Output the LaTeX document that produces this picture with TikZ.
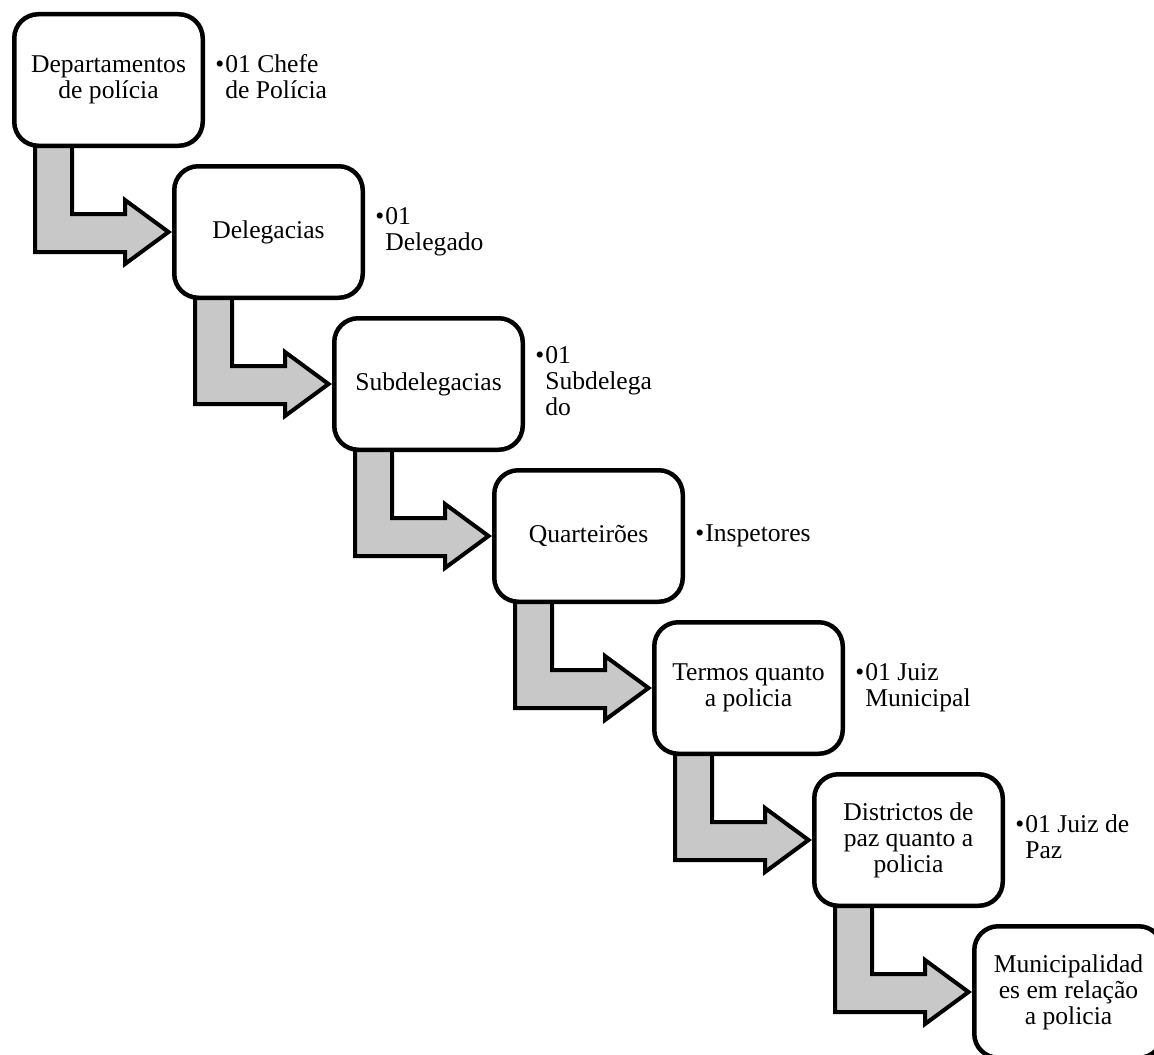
\documentclass[tikz,border=0pt]{standalone}
\usepackage{fontspec}
\setmainfont{Liberation Serif}
\usepackage{tikz}
\usetikzlibrary{positioning,calc,backgrounds}
\definecolor{arrowgray}{RGB}{200,200,200}
\newcommand{\itemnote}[1]{\begin{tabular}{@{}l@{\hspace{0.5pt}}l@{}}\textbullet&#1\end{tabular}}

\begin{document}
\begin{tikzpicture}[x=0.5pt,y=0.5pt,
    box/.style={draw,line width=2.25pt,rounded corners=12pt,fill=white,minimum width=94.25pt,minimum height=65.75pt,align=center,inner sep=2pt,font=\fontsize{12.8}{13}\selectfont},
    note/.style={inner sep=0pt,font=\fontsize{12.8}{13}\selectfont},
    flow/.style={draw,line width=2pt,fill=arrowgray}]
    \useasboundingbox (0,0) rectangle (1154,-1054);
    \clip (0,0) rectangle (1154,-1054);
    % Levels down the diagonal
    \foreach \i/\txt in {1/{Departamentos\\de polícia},2/{Delegacias},3/{Subdelegacias},4/{Quarteirões},5/{Termos quanto\\a policia},6/{Districtos de\\paz quanto a\\policia},7/{Municipalidad\\es em relação\\a policia}} {
      \node[box] (b\i) at ({108.5+160*(\i-1)},{-80-152*(\i-1)}) {\txt};
    }
    % Bent arrows between levels (behind the boxes)
    \begin{scope}[on background layer]
    \foreach \i [count=\j from 2] in {1,...,6} {
      \draw[flow] ($(b\i.center)+(-73.5,0)$) |- ($(b\j.center)+(-143.5,-20)$) -- ++(0,-12)
        -- ($(b\j.center)+(-100,0)$) -- ($(b\j.center)+(-143.5,32)$) -- ++(0,-14)
        -| ($(b\i.center)+(-36.5,0)$) -- cycle;
    }
    \end{scope}
    % Officers at each level
    \node[note,right=5pt of b1] (n1) {\itemnote{01 Chefe\\&de Polícia}};
    \node[note,right=5pt of b2] (n2) {\itemnote{01\\&Delegado}};
    \node[note,right=5pt of b3] (n3) {\itemnote{01\\&Subdelega\\&do}};
    \node[note,right=5pt of b4] (n4) {\itemnote{Inspetores}};
    \node[note,right=5pt of b5] (n5) {\itemnote{01 Juiz\\&Municipal}};
    \node[note,right=5pt of b6] (n6) {\itemnote{01 Juiz de\\&Paz}};
\end{tikzpicture}
\end{document}
